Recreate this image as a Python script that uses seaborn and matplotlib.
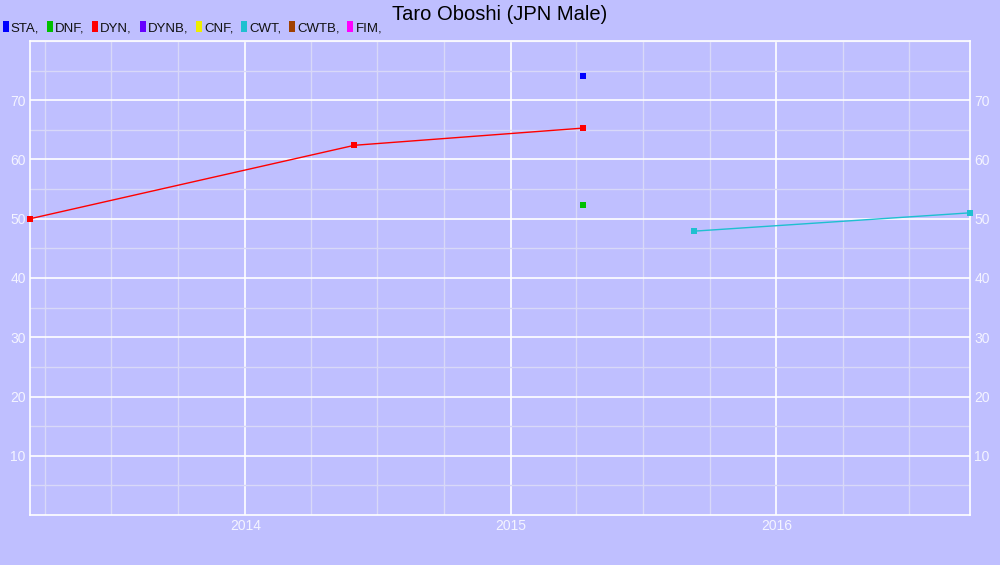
import matplotlib
matplotlib.use("Agg")
import matplotlib.pyplot as plt
import matplotlib.dates as mdates
from matplotlib.patches import Patch
from matplotlib.ticker import MultipleLocator, FixedLocator
import seaborn as sns
import pandas as pd

title = "Taro Oboshi (JPN Male)"
legend_events = ["STA", "DNF", "DYN", "DYNB", "CNF", "CWT", "CWTB", "FIM"]
legend_colors = ["#0000FF", "#00C000", "#FF0000", "#6600FF", "#EEEE00", "#1EC0D0", "#A04000", "#FF00FF"]

sta_dates = ["2015-04-10"]
sta_values = [74.1]
dnf_dates = ["2015-04-10"]
dnf_values = [52.3]
dyn_dates = ["2013-03-11", "2014-05-31", "2015-04-10"]
dyn_values = [50.0, 62.4, 65.3]
cwt_dates = ["2015-09-09", "2016-09-23"]
cwt_values = [47.9, 51.0]

y_ticks = [10, 20, 30, 40, 50, 60, 70]

series = {"STA": (sta_dates, sta_values), "DNF": (dnf_dates, dnf_values),
          "DYN": (dyn_dates, dyn_values), "CWT": (cwt_dates, cwt_values)}
rows = []
for ev, (ds, vs) in series.items():
    for d, v in zip(ds, vs):
        rows.append({"event": ev, "date": pd.Timestamp(d), "value": v})
df = pd.DataFrame(rows)
color_map = dict(zip(legend_events, legend_colors))

sns.set_theme(style="white")
plt.rcParams["font.family"] = ["Liberation Sans", "DejaVu Sans"]

bg = "#BFBFFF"
fig = plt.figure(figsize=(10, 5.65), dpi=100, facecolor=bg)
ax = fig.add_axes([0.03, 1 - 515 / 565, 0.94, (515 - 41) / 565])
ax.set_facecolor(bg)

for ev in series:
    sub = df[df["event"] == ev]
    sns.lineplot(data=sub, x="date", y="value", ax=ax, color=color_map[ev],
                 marker="s", markersize=5, markeredgewidth=0, linewidth=1,
                 estimator=None, sort=True, clip_on=False, zorder=5)

ax.set_xlim(df["date"].min(), df["date"].max())
ax.set_ylim(0, 80)
ax.set_xlabel("")
ax.set_ylabel("")

ax.xaxis.set_major_locator(mdates.YearLocator())
ax.xaxis.set_major_formatter(mdates.DateFormatter("%Y"))
ax.xaxis.set_minor_locator(mdates.MonthLocator(bymonth=[4, 7, 10]))
ax.yaxis.set_major_locator(FixedLocator(y_ticks))
ax.yaxis.set_minor_locator(MultipleLocator(5))

ax.grid(which="major", color="white", linewidth=1.2)
ax.grid(which="minor", color="#D8D8F8", linewidth=1.0)
ax.set_axisbelow(True)
for s in ax.spines.values():
    s.set_visible(True)
    s.set_color("white")
    s.set_linewidth(1.2)
    s.set_zorder(1)

ax.tick_params(axis="both", which="both", length=0, labelcolor="#F4F4FF", labelsize=10)
ax.tick_params(axis="y", labelleft=True, labelright=True, pad=3)
ax.tick_params(axis="x", pad=3)

fig.text(0.5, 0.975, title, ha="center", va="center", fontsize=14.5, color="black")

handles = [Patch(facecolor=c, edgecolor="none") for c in legend_colors]
labels = [f"{e}," for e in legend_events]
fig.legend(handles, labels, loc="center left", bbox_to_anchor=(0.0, 1 - 28 / 565),
           ncol=8, frameon=False, fontsize=9.5, handlelength=0.45, handleheight=0.9,
           handletextpad=0.15, columnspacing=0.6, borderpad=0, borderaxespad=0.2,
           labelcolor="#111111")

fig.savefig("out.png", dpi=100, facecolor=bg)
